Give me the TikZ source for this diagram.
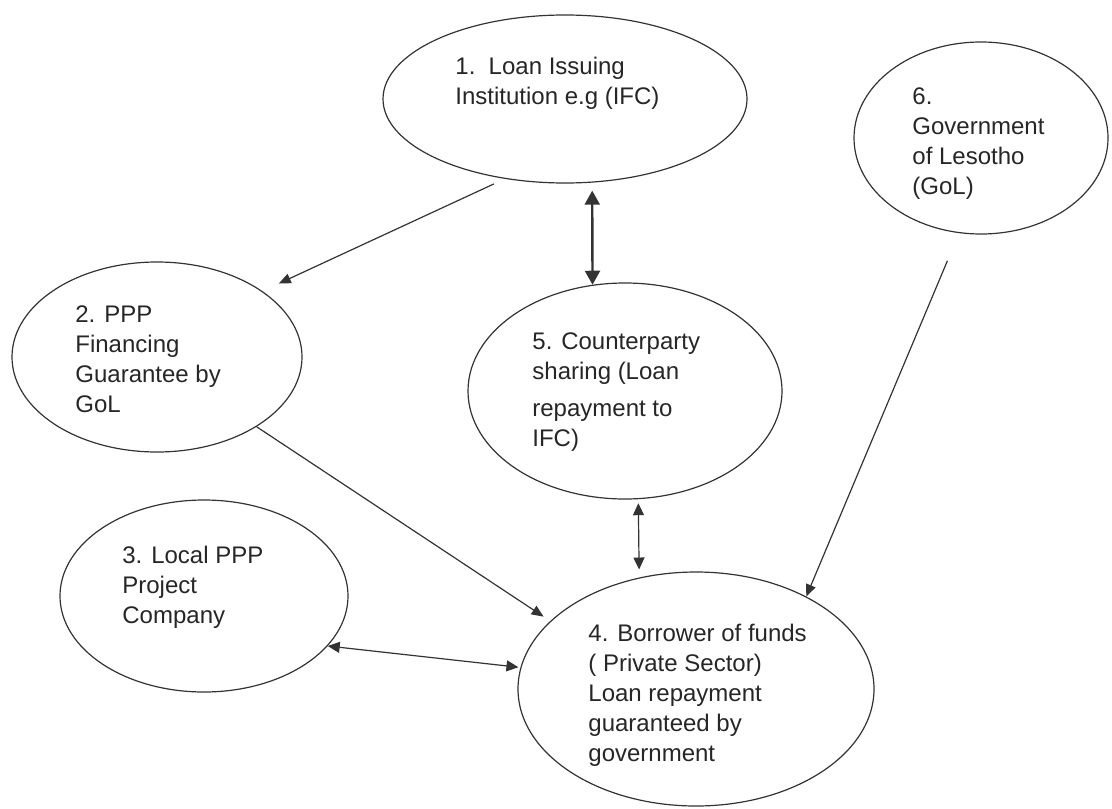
\documentclass[tikz,border=0pt]{standalone}
\usepackage{fontspec}
\setmainfont{Liberation Sans}
\usetikzlibrary{shapes.geometric,arrows.meta}

\begin{document}
\begin{tikzpicture}[x=0.5pt, y=-0.5pt,
  party/.style={draw=black!80, line width=0.6pt, ellipse, inner sep=0pt},
  txt/.style={anchor=north west, inner sep=0pt, align=left, text=black!85, font=\fontsize{12}{15}\selectfont},
  link/.style={draw=black!80, line width=0.6pt, -{Triangle[length=6pt, width=5pt]}},
  both/.style={link, {Triangle[length=6pt, width=5.5pt]}-{Triangle[length=6pt, width=5.5pt]}}]
\useasboundingbox (0,0) rectangle (1112,808);
% the six parties
\node[party, minimum width=182pt, minimum height=84pt] (e1) at (565,99) {};
\node[party, minimum width=145pt, minimum height=95pt] (e2) at (157,357) {};
\node[party, minimum width=144pt, minimum height=96pt] (e3) at (204,596) {};
\node[party, minimum width=178pt, minimum height=117pt] (e4) at (696,689) {};
\node[party, minimum width=157pt, minimum height=108pt] (e5) at (625,391) {};
\node[party, minimum width=127pt, minimum height=96pt] (e6) at (981,138) {};
% their texts
\node[txt] (t1) at (455,57) {1.\ \ Loan Issuing\\Institution e.g (IFC)};
\node[txt] (t2) at (75,305) {2. PPP\\Financing\\Guarantee by\\GoL};
\node[txt] (t3) at (122,546) {3. Local PPP\\Project\\Company};
\node[txt] (t4) at (588,624) {4. Borrower of funds\\( Private Sector)\\Loan repayment\\guaranteed by\\government};
\node[txt] (t5) at (532,332) {5. Counterparty\\sharing (Loan\\[3.5pt]repayment to\\IFC)};
\node[txt] (t6) at (912,87) {6.\\Government\\of Lesotho\\(GoL)};
% one-way links
\draw[link, shorten <=6pt, shorten >=9pt] (e1.233) -- (e2.32);
\draw[link, shorten >=4pt] (e2.325) -- (e4.155);
\draw[link, shorten <=15pt] (e6.257) -- (e4.40);
% two-way links
\draw[both, line width=1.2pt, {Triangle[length=7pt, width=7.5pt]}-{Triangle[length=7pt, width=7.5pt]}, shorten <=4pt] (e1.288) -- (e5.107);
\draw[both, shorten <=2pt, shorten >=4pt] (e5.277) -- (e4.117);
\draw[both, shorten >=1pt] (e3.338) -- (e4.173);
\end{tikzpicture}
\end{document}
